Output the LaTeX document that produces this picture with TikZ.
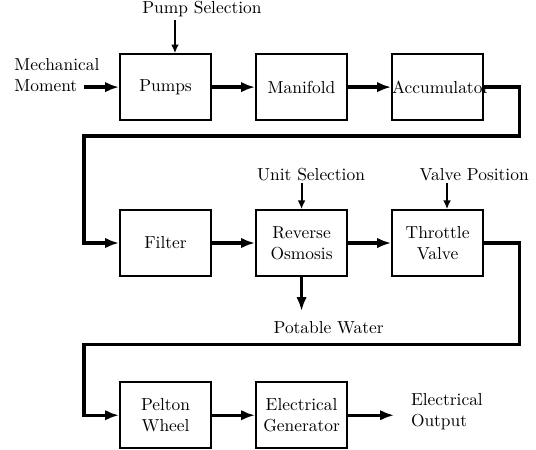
\documentclass[tikz,border=0pt]{standalone}
\usetikzlibrary{arrows.meta}
\begin{document}
\begin{tikzpicture}
\tikzstyle{block}=[draw, rectangle, line width=1.1pt, minimum height=1.33cm, text width=1.84cm, inner xsep=0pt, align=center]
\tikzstyle{flow}=[draw, line width=1.9pt, -{Latex[length=8pt,width=6pt]}]
\tikzstyle{input}=[draw, line width=1.1pt, -{Latex[length=5pt,width=4.5pt]}]
\tikzstyle{label}=[align=left, inner sep=0pt]

\useasboundingbox (0,0) rectangle (10.83,-9.09);

% Define blocks
\node[block] (pumps) at (3.345,-1.76) {Pumps};
\node[block] (manifold) at (6.093,-1.76) {Manifold};
\node[block] (accumulator) at (8.842,-1.76) {Accumulator};

\node[block] (filter) at (3.345,-4.91) {Filter};
\node[block] (osmosis) at (6.093,-4.91) {Reverse\\Osmosis};
\node[block] (throttle) at (8.842,-4.91) {Throttle\\Valve};

\node[block] (pelton) at (3.345,-8.39) {Pelton\\Wheel};
\node[block] (generator) at (6.093,-8.39) {Electrical\\Generator};

% Inputs and outputs
\node[label] (moment) at (1.15,-1.52) {Mechanical\\Moment};
\node[label] (pumpsel) at (4.08,-0.18) {Pump Selection};
\node[label] (unitsel) at (6.285,-3.52) {Unit Selection};
\node[label] (valvepos) at (9.58,-3.52) {Valve Position};
\node[label] (water) at (6.64,-6.63) {Potable Water};
\node[label] (output) at (9.03,-8.31) {Electrical\\Output};

% Bends of the long lines
\coordinate (start) at (1.70,-1.76);
\coordinate (bend1) at (10.49,-2.75);
\coordinate (bend2) at (1.70,-2.75);
\coordinate (bend3) at (10.49,-6.96);
\coordinate (bend4) at (1.70,-6.96);

% Main flow
\draw[flow] (start) -- (pumps.west);
\draw[flow] (pumps) -- (manifold);
\draw[flow] (manifold) -- (accumulator);
\draw[flow] (accumulator.east) -| (bend1) -- (bend2) |- (filter.west);
\draw[flow] (filter) -- (osmosis);
\draw[flow] (osmosis) -- (throttle);
\draw[flow] (throttle.east) -| (bend3) -- (bend4) |- (pelton.west);
\draw[flow] (pelton) -- (generator);
\draw[flow] (generator.east) -- ++(0.93,0);
\draw[flow] (osmosis.south) -- ++(0,-0.69);

% Control inputs
\draw[input] ([xshift=0.19cm]pumps.north |- pumpsel.south) ++(0,-0.05) -- ([xshift=0.19cm]pumps.north);
\draw[input] (osmosis.north |- unitsel.south) ++(0,-0.05) -- (osmosis.north);
\draw[input] ([xshift=0.19cm]throttle.north |- valvepos.south) ++(0,-0.05) -- ([xshift=0.19cm]throttle.north);
\end{tikzpicture}
\end{document}
